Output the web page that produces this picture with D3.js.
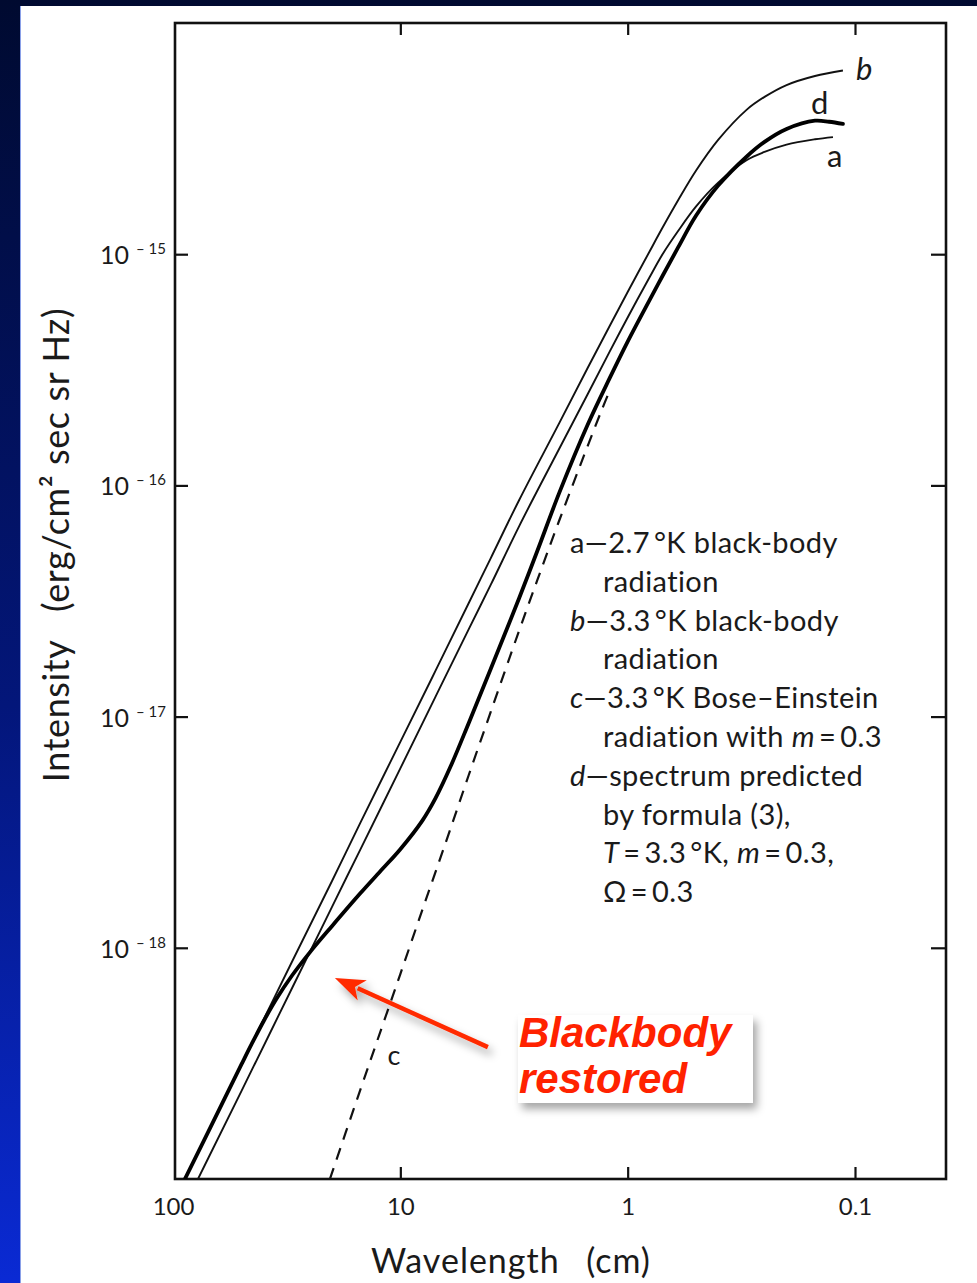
<!DOCTYPE html>
<html><head><meta charset="utf-8">
<script src="https://cdn.jsdelivr.net/npm/d3@7"></script>
<style>body{margin:0;background:#fff;} svg{display:block}</style>
</head><body>
<svg id="chart" width="977" height="1283"></svg>
<script>
// ---------------- data ----------------
const xTickValues = [100, 10, 1, 0.1];
const xTickLabels = ["100", "10", "1", "0.1"];
const yTickValues = [1e-15, 1e-16, 1e-17, 1e-18];
const yTickExponents = ["15", "16", "17", "18"];

// a — 2.7 K black-body radiation
const aWavelength = [100,90,70,50,30,20,15,10,7,5,4,3,2,1.5,1.2,1,0.8,0.7,0.6,0.5,0.4,0.3,0.25,0.2,0.15,0.125];
const aIntensity  = [6.02e-20,7.45e-20,1.23e-19,2.40e-19,6.67e-19,1.50e-18,2.66e-18,5.97e-18,1.22e-17,2.39e-17,3.72e-17,6.67e-17,1.44e-16,2.48e-16,3.79e-16,5.32e-16,7.97e-16,1.005e-15,1.26e-15,1.61e-15,2.04e-15,2.55e-15,2.77e-15,2.98e-15,3.14e-15,3.21e-15];
// b — 3.3 K black-body radiation
const bWavelength = [100,90,70,50,30,20,15,10,7,5,4,3,2,1.5,1.2,1,0.8,0.7,0.6,0.5,0.4,0.3,0.25,0.2,0.15,0.113];
const bIntensity  = [7.87e-20,9.70e-20,1.60e-19,3.13e-19,8.68e-19,1.94e-18,3.47e-18,7.77e-18,1.58e-17,3.10e-17,4.85e-17,8.65e-17,1.86e-16,3.22e-16,4.89e-16,6.86e-16,1.03e-15,1.31e-15,1.71e-15,2.30e-15,3.12e-15,4.21e-15,4.79e-15,5.39e-15,5.90e-15,6.23e-15];
// c — 3.3 K Bose–Einstein radiation, m = 0.3
const cWavelength = [25,20,15,12,10,8,7,6,5,4,3,2.5,2,1.5,1.3,1.2];
const cIntensity  = [5.50e-20,1.06e-19,2.43e-19,4.59e-19,7.70e-19,1.46e-18,2.13e-18,3.30e-18,5.59e-18,1.05e-17,2.36e-17,3.88e-17,7.05e-17,1.48e-16,2.12e-16,2.57e-16];
// d — spectrum predicted by formula (3)
const dWavelength = [100,90,70,50,45,40,35,30,25,20,15,12,10,8,7,6,5,4,3,2.5,2,1.5,1.2,1,0.8,0.7,0.6,0.5,0.4,0.3,0.25,0.2,0.15,0.13,0.113];
const dIntensity  = [7.87e-20,9.70e-20,1.60e-19,3.13e-19,3.85e-19,4.80e-19,6.03e-19,7.57e-19,9.56e-19,1.24e-18,1.72e-18,2.19e-18,2.67e-18,3.55e-18,4.44e-18,6.11e-18,9.39e-18,1.61e-17,3.26e-17,5.19e-17,9.28e-17,1.83e-16,2.91e-16,4.19e-16,6.35e-16,8.11e-16,1.07e-15,1.47e-15,1.98e-15,2.64e-15,3.06e-15,3.48e-15,3.78e-15,3.74e-15,3.66e-15];

const legendLines = [
  {indent:false, parts:[["a—2.7\u2009°K black-body",false]]},
  {indent:true,  parts:[["radiation",false]]},
  {indent:false, parts:[["b",true],["—3.3\u2009°K black-body",false]]},
  {indent:true,  parts:[["radiation",false]]},
  {indent:false, parts:[["c",true],["—3.3\u2009°K Bose–Einstein",false]]},
  {indent:true,  parts:[["radiation with ",false],["m",true],["\u2009=\u20090.3",false]]},
  {indent:false, parts:[["d",true],["—spectrum predicted",false]]},
  {indent:true,  parts:[["by formula (3),",false]]},
  {indent:true,  parts:[["T",true],["\u2009=\u20093.3\u2009°K, ",false],["m",true],["\u2009=\u20090.3,",false]]},
  {indent:true,  parts:[["Ω\u2009=\u20090.3",false]]}
];

// ---------------- layout ----------------
const W = 977, H = 1283;
const box = {left:175, right:946, top:23, bottom:1179};
const FONT = "Lato, 'Open Sans', sans-serif";
const INK = "#1a1a1a";

const svg = d3.select("#chart");
const defs = svg.append("defs");

const grad = defs.append("linearGradient").attr("id","bg").attr("x1",0).attr("y1",0).attr("x2",0).attr("y2",1);
grad.append("stop").attr("offset","0%").attr("stop-color","#000a30");
grad.append("stop").attr("offset","55%").attr("stop-color","#03167a");
grad.append("stop").attr("offset","100%").attr("stop-color","#0a2ad4");

const sh = defs.append("filter").attr("id","shadow").attr("x","-20%").attr("y","-20%").attr("width","150%").attr("height","160%");
sh.append("feDropShadow").attr("dx",4).attr("dy",6).attr("stdDeviation",4).attr("flood-color","#000").attr("flood-opacity",0.35);

defs.append("clipPath").attr("id","plotclip").append("rect")
  .attr("x",box.left).attr("y",box.top).attr("width",box.right-box.left).attr("height",box.bottom-box.top);

svg.append("rect").attr("width",W).attr("height",H).attr("fill","url(#bg)");
svg.append("rect").attr("x",20).attr("y",6).attr("width",W-20).attr("height",H-6).attr("fill","#fff");
svg.append("line").attr("x1",20.5).attr("x2",20.5).attr("y1",6).attr("y2",H).attr("stroke","#8aa0e8").attr("stroke-width",1);

const x = d3.scaleLog().domain([100, 0.1]).range([173, 855]);
const y = d3.scaleLog().domain([1e-19, 1e-14]).range([box.bottom, box.top]);

// ---------------- axes ----------------
const axStyle = g => {
  g.select(".domain").remove();
  g.selectAll(".tick line").attr("stroke","#111").attr("stroke-width",2.2);
};

const gb = svg.append("g").attr("transform",`translate(0,${box.bottom})`)
  .call(d3.axisBottom(x).tickValues(xTickValues).tickSize(-12).tickSizeOuter(0).tickPadding(19)
        .tickFormat((d,i)=>xTickLabels[i]));
axStyle(gb);
gb.selectAll(".tick line").filter(d=>d===100).remove();
gb.selectAll(".tick text").attr("font-family",FONT).attr("font-size",24).attr("fill",INK).attr("dy","0.71em");

const gt = svg.append("g").attr("transform",`translate(0,${box.top})`)
  .call(d3.axisTop(x).tickValues(xTickValues.filter(d=>d!==100)).tickSize(-12).tickSizeOuter(0).tickFormat(""));
axStyle(gt);

const gl = svg.append("g").attr("transform",`translate(${box.left},0)`)
  .call(d3.axisLeft(y).tickValues(yTickValues).tickSize(-13).tickSizeOuter(0).tickFormat(""));
axStyle(gl);

const gr = svg.append("g").attr("transform",`translate(${box.right},0)`)
  .call(d3.axisRight(y).tickValues(yTickValues).tickSize(-15).tickSizeOuter(0).tickFormat(""));
axStyle(gr);

// y tick labels with superscript exponents
yTickValues.forEach((v,i)=>{
  const t = svg.append("text").attr("x",166).attr("y",y(v)+10)
    .attr("text-anchor","end").attr("font-family",FONT).attr("fill",INK);
  t.append("tspan").attr("font-size",25).text("10");
  t.append("tspan").attr("font-size",15).attr("dx",7).attr("dy",-10).text("\u2013 " + yTickExponents[i]);
});

// plot frame
svg.append("rect").attr("x",box.left).attr("y",box.top)
  .attr("width",box.right-box.left).attr("height",box.bottom-box.top)
  .attr("fill","none").attr("stroke","#111").attr("stroke-width",2.6);

// axis titles
svg.append("text").attr("x",511).attr("y",1273).attr("text-anchor","middle")
  .attr("font-family",FONT).attr("font-size",34).attr("letter-spacing",1).attr("fill",INK)
  .text("Wavelength\u2003(cm)");
svg.append("text").attr("transform","translate(69,545) rotate(-90)").attr("text-anchor","middle")
  .attr("font-family",FONT).attr("font-size",36).attr("letter-spacing",0.6).attr("fill",INK)
  .text("Intensity\u2003(erg/cm\u00B2 sec sr Hz)");

// ---------------- curves ----------------
const line = d3.line().x(d=>x(d[0])).y(d=>y(d[1])).curve(d3.curveCatmullRom.alpha(0.5));
const zip = (xs,ys)=>xs.map((v,i)=>[v,ys[i]]);
const plot = svg.append("g").attr("clip-path","url(#plotclip)");

plot.append("path").datum(zip(bWavelength,bIntensity)).attr("d",line)
  .attr("fill","none").attr("stroke","#111").attr("stroke-width",1.9);
plot.append("path").datum(zip(aWavelength,aIntensity)).attr("d",line)
  .attr("fill","none").attr("stroke","#111").attr("stroke-width",1.9);
plot.append("path").datum(zip(cWavelength,cIntensity)).attr("d",line)
  .attr("fill","none").attr("stroke","#111").attr("stroke-width",2.2).attr("stroke-dasharray","12,9");
plot.append("path").datum(zip(dWavelength,dIntensity)).attr("d",line)
  .attr("fill","none").attr("stroke","#000").attr("stroke-width",3.8).attr("stroke-linecap","round");

// curve labels
const lastPt = (xs,ys)=>[x(xs[xs.length-1]), y(ys[ys.length-1])];
const [bx,by] = lastPt(bWavelength,bIntensity);
const [ax_,ay_] = lastPt(aWavelength,aIntensity);
const [dx_,dy_] = lastPt(dWavelength,dIntensity);
const lab = (px,py,t,it)=>svg.append("text").attr("x",px).attr("y",py)
  .attr("font-family",FONT).attr("font-size",31).attr("fill",INK)
  .attr("font-style",it?"italic":"normal").text(t);
lab(bx+13, by+9, "b", true);
lab(dx_-32, dy_-10, "d", false);
lab(ax_-6, ay_+30, "a", false);
lab(x(11.4), y(3.1e-19), "c", false).attr("font-size",27);

// legend
const lg = svg.append("g").attr("font-family",FONT).attr("font-size",29).attr("letter-spacing",0.4).attr("fill",INK);
legendLines.forEach((ln,i)=>{
  const t = lg.append("text").attr("x", ln.indent ? 603 : 570).attr("y", 553 + i*38.8);
  ln.parts.forEach(p=>t.append("tspan").attr("font-style",p[1]?"italic":"normal").text(p[0]));
});

// ---------------- annotation ----------------
const tip = [x(19.4), y(7.4e-19)];
const tail = [x(4.12), y(3.72e-19)];
const ang = Math.atan2(tip[1]-tail[1], tip[0]-tail[0]);
const headLen = 30, headW = 11;
const bxp = [tip[0]-headLen*Math.cos(ang), tip[1]-headLen*Math.sin(ang)];
const arrow = svg.append("g").attr("filter","url(#shadow)");
arrow.append("line").attr("x1",tail[0]).attr("y1",tail[1]).attr("x2",bxp[0]+5*Math.cos(ang)).attr("y2",bxp[1]+5*Math.sin(ang))
  .attr("stroke","#ff2a00").attr("stroke-width",4.5);
arrow.append("path").attr("fill","#ff2a00").attr("d",
  `M${tip[0]},${tip[1]} L${bxp[0]+headW*Math.sin(ang)},${bxp[1]-headW*Math.cos(ang)} L${bxp[0]+8*Math.cos(ang)},${bxp[1]+8*Math.sin(ang)} L${bxp[0]-headW*Math.sin(ang)},${bxp[1]+headW*Math.cos(ang)} Z`);

svg.append("rect").attr("x",518).attr("y",1015).attr("width",235).attr("height",88)
  .attr("fill","#fff").attr("filter","url(#shadow)");
const note = svg.append("text").attr("font-family","'Liberation Sans', Arial, sans-serif")
  .attr("font-weight","bold").attr("font-style","italic").attr("font-size",42).attr("fill","#ff2200");
note.append("tspan").attr("x",519).attr("y",1047).text("Blackbody");
note.append("tspan").attr("x",519).attr("y",1093).text("restored");
</script>
</body></html>
